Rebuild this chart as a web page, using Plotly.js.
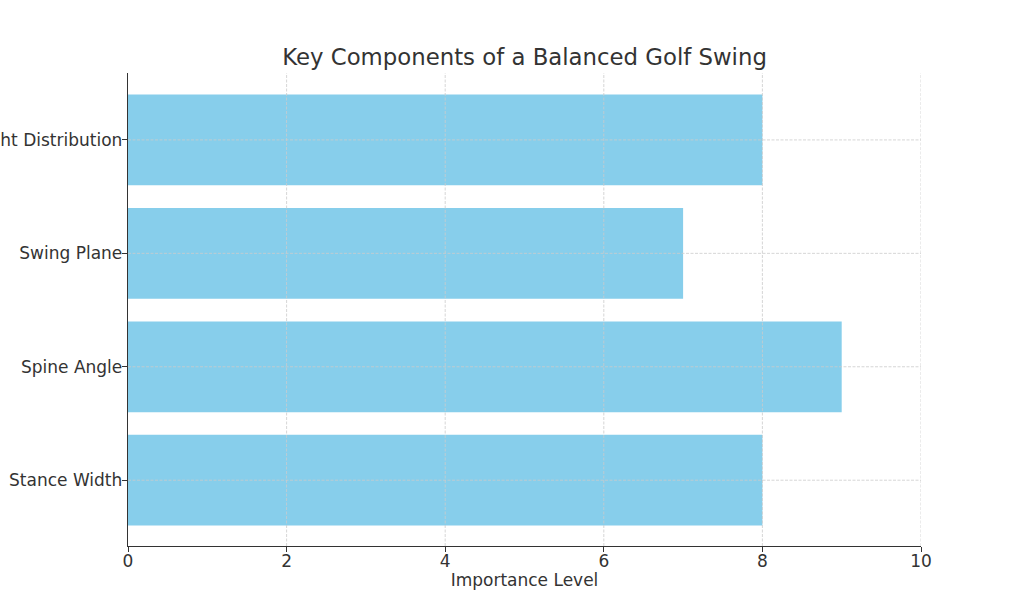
<!DOCTYPE html>
<html>
<head>
<meta charset="utf-8">
<script src="https://cdn.plot.ly/plotly-3.0.1.min.js"></script>
<style>
  html, body { margin: 0; padding: 0; background: #fff; }
  #plot { width: 1024px; height: 614px; }
</style>
</head>
<body>
<div id="plot"></div>
<script>
// Chart data
const components = ['Stance Width', 'Spine Angle', 'Swing Plane', 'Weight Distribution'];
const importance = [8, 9, 7, 8];
const xTicks = [0, 2, 4, 6, 8, 10];

const textColor = '#333333';
const gridColor = '#cccccc';
const gridDash = '3px,1.5px';

const data = [
    {
        type: 'bar',
        orientation: 'h',
        x: importance,
        y: components,
        width: 0.8,
        marker: { color: '#87CEEB' },
        hoverinfo: 'x+y'
    }
];

// Gridlines drawn over the bars (matplotlib style), one per tick / category
const gridShapes = [];
xTicks.filter(t => t > 0).forEach(t => {
    gridShapes.push({
        type: 'line', layer: 'above',
        xref: 'x', yref: 'paper', x0: t, x1: t, y0: 0, y1: 1,
        line: { color: gridColor, width: 0.8, dash: gridDash }
    });
});
components.forEach(c => {
    gridShapes.push({
        type: 'line', layer: 'above',
        xref: 'paper', yref: 'y', x0: 0, x1: 1, y0: c, y1: c,
        line: { color: gridColor, width: 0.8, dash: gridDash }
    });
});

const layout = {
    width: 1024,
    height: 614,
    paper_bgcolor: '#ffffff',
    plot_bgcolor: '#ffffff',
    font: { family: 'DejaVu Sans, sans-serif', color: textColor },
    title: {
        text: 'Key Components of a Balanced Golf Swing',
        font: { size: 22.8, color: textColor },
        x: 0.5,
        xref: 'paper',
        xanchor: 'center',
        y: 1,
        yref: 'paper',
        yanchor: 'bottom',
        pad: { b: 8 }
    },
    margin: { l: 128, r: 103, t: 73, b: 68 },
    xaxis: {
        range: [0, 10],
        tickvals: xTicks,
        ticks: 'outside',
        ticklen: 5,
        tickcolor: textColor,
        tickfont: { size: 17, color: textColor },
        ticklabelstandoff: -6,
        showline: true,
        linecolor: textColor,
        linewidth: 1.3,
        showgrid: false,
        zeroline: false,
        layer: 'above traces',
        title: { text: 'Importance Level', font: { size: 17, color: textColor }, standoff: 4 }
    },
    yaxis: {
        range: [-0.58, 3.59],
        ticks: 'outside',
        ticklen: 5,
        tickcolor: textColor,
        tickfont: { size: 17, color: textColor },
        ticklabelstandoff: -4,
        showline: true,
        linecolor: textColor,
        linewidth: 1.3,
        showgrid: false,
        zeroline: false,
        layer: 'above traces',
        automargin: false
    },
    shapes: gridShapes,
    showlegend: false,
    bargap: 0.2
};

Plotly.newPlot('plot', data, layout, { displayModeBar: false, staticPlot: true });
</script>
</body>
</html>
